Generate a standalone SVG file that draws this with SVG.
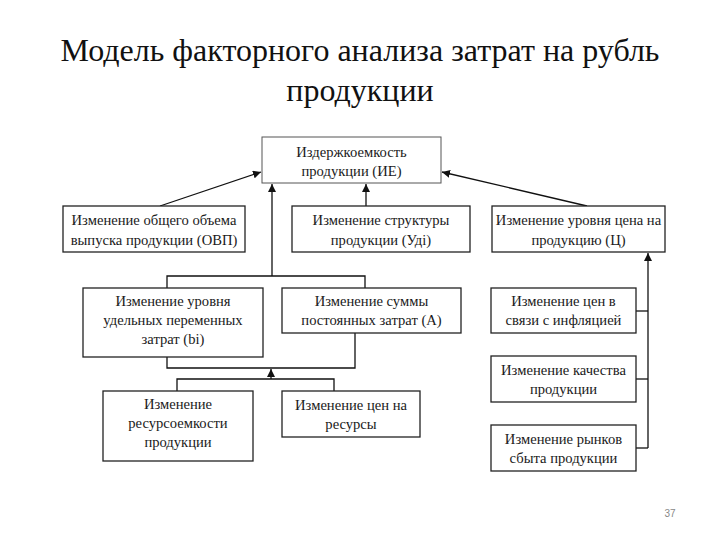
<svg xmlns="http://www.w3.org/2000/svg" width="720" height="540" viewBox="0 0 720 540">
<defs>
<style>
.t{font-family:'Liberation Serif','Times New Roman',Times,serif;font-size:14.6px;fill:#1a1a1a;text-anchor:middle}
.title{font-family:'Liberation Serif','Times New Roman',Times,serif;font-size:32px;fill:#111;text-anchor:middle}
.b{fill:#fff;stroke:#222;stroke-width:1.3}
.bl{fill:#fff;stroke:#555;stroke-width:1}
.c{fill:none;stroke:#111;stroke-width:1.3}
</style>
<marker id="ah" viewBox="0 0 10 10" refX="10" refY="5" markerWidth="8" markerHeight="8" markerUnits="userSpaceOnUse" orient="auto">
<path d="M0,0 L10,5 L0,10 z" fill="#111"/>
</marker>
</defs>
<rect width="720" height="540" fill="#fff"/>
<g id="title">
<text class="title" x="360" y="61">Модель факторного анализа затрат на рубль</text>
<text class="title" x="360" y="101">продукции</text>
</g>
<g id="connectors">
<line class="c" x1="160" y1="206" x2="261" y2="172" marker-end="url(#ah)"/>
<line class="c" x1="366" y1="206" x2="366" y2="184" marker-end="url(#ah)"/>
<line class="c" x1="587" y1="206" x2="442" y2="172" marker-end="url(#ah)"/>
<line class="c" x1="272" y1="276" x2="272" y2="184" marker-end="url(#ah)"/>
<polyline class="c" points="167,288 167,276 365,276 365,288"/>
<polyline class="c" points="167,357 167,368 355,368 355,333"/>
<line class="c" x1="271" y1="379" x2="271" y2="369" marker-end="url(#ah)"/>
<polyline class="c" points="177,391 177,379 334,379 334,391"/>
<line class="c" x1="648" y1="448" x2="648" y2="253" marker-end="url(#ah)"/>
<line class="c" x1="636" y1="311" x2="648" y2="311"/>
<line class="c" x1="636" y1="379" x2="648" y2="379"/>
<line class="c" x1="636" y1="448" x2="648" y2="448"/>
</g>
<g id="n-ie">
<rect class="bl" x="262" y="137" width="179" height="46"/>
<text class="t" x="351.5" y="157">Издержкоемкость</text>
<text class="t" x="351.5" y="176">продукции (ИЕ)</text>
</g>
<g id="n-ovp">
<rect class="b" x="63" y="206" width="182" height="46"/>
<text class="t" x="154" y="225">Изменение общего объема</text>
<text class="t" x="154" y="245">выпуска продукции (ОВП)</text>
</g>
<g id="n-ud">
<rect class="b" x="292" y="206" width="178" height="46"/>
<text class="t" x="381" y="225">Изменение структуры</text>
<text class="t" x="381" y="245">продукции (Удi)</text>
</g>
<g id="n-c">
<rect class="b" x="492" y="206" width="173" height="46"/>
<text class="t" x="578.5" y="225">Изменение уровня цена на</text>
<text class="t" x="578.5" y="245">продукцию (Ц)</text>
</g>
<g id="n-bi">
<rect class="b" x="83" y="288" width="180" height="69"/>
<text class="t" x="173" y="306">Изменение уровня</text>
<text class="t" x="173" y="325">удельных переменных</text>
<text class="t" x="173" y="344">затрат (bi)</text>
</g>
<g id="n-a">
<rect class="b" x="282" y="288" width="179" height="45"/>
<text class="t" x="371.5" y="306">Изменение суммы</text>
<text class="t" x="371.5" y="325">постоянных затрат (А)</text>
</g>
<g id="n-res">
<rect class="b" x="103" y="391" width="150" height="70"/>
<text class="t" x="178" y="409">Изменение</text>
<text class="t" x="178" y="428">ресурсоемкости</text>
<text class="t" x="178" y="447">продукции</text>
</g>
<g id="n-price">
<rect class="b" x="282" y="391" width="138" height="46"/>
<text class="t" x="351" y="410">Изменение цен на</text>
<text class="t" x="351" y="429">ресурсы</text>
</g>
<g id="n-infl">
<rect class="b" x="491" y="288" width="145" height="45"/>
<text class="t" x="563.5" y="306">Изменение цен в</text>
<text class="t" x="563.5" y="325">связи с инфляцией</text>
</g>
<g id="n-qual">
<rect class="b" x="491" y="356" width="145" height="46"/>
<text class="t" x="563.5" y="375">Изменение качества</text>
<text class="t" x="563.5" y="394">продукции</text>
</g>
<g id="n-market">
<rect class="b" x="491" y="425" width="145" height="46"/>
<text class="t" x="563.5" y="444">Изменение рынков</text>
<text class="t" x="563.5" y="463">сбыта продукции</text>
</g>
<text x="670" y="517" font-family="'Liberation Sans', Arial, sans-serif" font-size="10" fill="#888" text-anchor="middle">37</text>
</svg>
